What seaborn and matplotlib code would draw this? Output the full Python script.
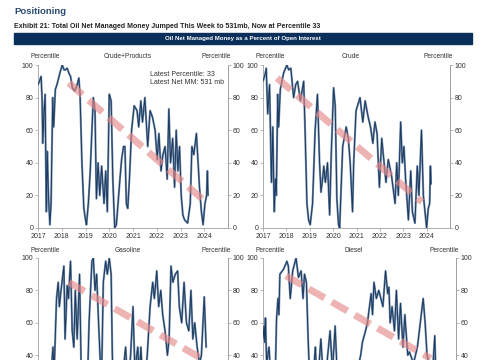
import numpy as np
import pandas as pd
import seaborn as sns
import matplotlib.pyplot as plt

# Crude+Products percentile
cp_years = [2017.00, 2017.06, 2017.13, 2017.17, 2017.20, 2017.25, 2017.30, 2017.35, 2017.39, 2017.44,
            2017.50, 2017.55, 2017.62, 2017.66, 2017.73, 2017.80, 2017.92, 2018.02, 2018.10, 2018.15,
            2018.23, 2018.30, 2018.37, 2018.45, 2018.54, 2018.60, 2018.65, 2018.72, 2018.77, 2018.85,
            2018.93, 2019.00, 2019.04, 2019.12, 2019.20, 2019.27, 2019.33, 2019.40, 2019.46, 2019.53,
            2019.60, 2019.68, 2019.78, 2019.85, 2019.92, 2020.00, 2020.08, 2020.15, 2020.23, 2020.30,
            2020.45, 2020.52, 2020.60, 2020.66, 2020.72, 2020.78, 2020.85, 2020.94, 2021.05, 2021.17,
            2021.24, 2021.33, 2021.40, 2021.50, 2021.62, 2021.72, 2021.82, 2021.93, 2022.02, 2022.09,
            2022.18, 2022.26, 2022.35, 2022.44, 2022.51, 2022.58, 2022.67, 2022.75, 2022.82, 2022.89,
            2022.96, 2023.03, 2023.10, 2023.17, 2023.30, 2023.41, 2023.48, 2023.56, 2023.67, 2023.74,
            2023.80, 2023.88, 2023.95, 2024.03, 2024.10, 2024.13, 2024.16]
cp_pct = [88, 90, 93, 80, 52, 70, 82, 10, 47, 20,
          2, 15, 80, 62, 85, 88, 95, 100, 97, 97,
          98, 95, 93, 86, 84, 86, 88, 92, 82, 40,
          12, 5, 2, 15, 35, 60, 80, 72, 18, 40,
          20, 38, 15, 35, 10, 82, 78, 30, 0, 2,
          30, 42, 50, 50, 15, 12, 30, 60, 75, 72,
          62, 78, 65, 80, 50, 72, 68, 60, 42, 58,
          35, 45, 50, 30, 73, 40, 55, 25, 60, 35,
          50, 20, 8, 5, 3, 15, 50, 45, 58, 40,
          25, 10, 2, 15, 20, 35, 20]

# Crude percentile
cr_years = [2017.00, 2017.10, 2017.14, 2017.20, 2017.28, 2017.36, 2017.42, 2017.48, 2017.53, 2017.57,
            2017.63, 2017.67, 2017.74, 2017.88, 2018.02, 2018.10, 2018.19, 2018.31, 2018.40, 2018.48,
            2018.60, 2018.74, 2018.80, 2018.88, 2018.95, 2019.02, 2019.12, 2019.23, 2019.33, 2019.42,
            2019.48, 2019.55, 2019.60, 2019.67, 2019.76, 2019.85, 2019.92, 2020.02, 2020.09, 2020.16,
            2020.23, 2020.28, 2020.33, 2020.41, 2020.56, 2020.65, 2020.73, 2020.83, 2020.88, 2020.98,
            2021.15, 2021.27, 2021.37, 2021.50, 2021.60, 2021.70, 2021.79, 2021.88, 2021.98, 2022.08,
            2022.18, 2022.26, 2022.36, 2022.50, 2022.65, 2022.72, 2022.79, 2022.89, 2022.96, 2023.03,
            2023.10, 2023.22, 2023.32, 2023.39, 2023.50, 2023.60, 2023.67, 2023.78, 2023.86, 2024.00,
            2024.07, 2024.13, 2024.16, 2024.19]
cr_pct = [90, 95, 98, 70, 88, 28, 62, 10, 30, 20,
          82, 62, 85, 95, 100, 97, 98, 80, 88, 90,
          78, 90, 60, 15, 5, 2, 15, 60, 82, 40,
          22, 30, 38, 28, 40, 8, 45, 86, 75, 18,
          2, 0, 20, 50, 62, 55, 40, 10, 40, 72,
          80, 65, 78, 68, 62, 52, 65, 58, 25, 55,
          40, 28, 42, 32, 15, 40, 20, 65, 40, 50,
          30, 5, 35, 10, 3, 38, 20, 60, 20, 0,
          12, 15, 38, 27]

# Gasoline percentile
gs_years = [2017.00, 2017.15, 2017.30, 2017.45, 2017.58, 2017.63, 2017.68, 2017.78, 2017.85, 2017.90,
            2017.97, 2018.09, 2018.14, 2018.23, 2018.28, 2018.37, 2018.44, 2018.51, 2018.57, 2018.65,
            2018.75, 2018.82, 2018.95, 2019.05, 2019.15, 2019.27, 2019.33, 2019.40, 2019.47, 2019.55,
            2019.67, 2019.75, 2019.85, 2019.92, 2020.00, 2020.08, 2020.13, 2020.22, 2020.40, 2020.55,
            2020.69, 2020.78, 2020.90, 2021.00, 2021.08, 2021.20, 2021.27, 2021.33, 2021.45, 2021.60,
            2021.72, 2021.83, 2021.90, 2022.00, 2022.08, 2022.17, 2022.25, 2022.35, 2022.45, 2022.52,
            2022.60, 2022.68, 2022.78, 2022.88, 2022.95, 2023.05, 2023.15, 2023.25, 2023.35, 2023.44,
            2023.52, 2023.60, 2023.70, 2023.80, 2023.88, 2024.00, 2024.08]
gs_pct = [15, 25, 10, 30, 35, 45, 30, 75, 85, 70,
          80, 95, 50, 83, 75, 98, 55, 45, 80, 50,
          90, 30, 10, 5, 60, 98, 100, 80, 90, 60,
          20, 85, 98, 90, 100, 90, 40, 5, 10, 25,
          45, 20, 40, 70, 30, 45, 25, 45, 15, 40,
          70, 85, 75, 92, 70, 80, 65, 55, 40, 50,
          95, 85, 90, 92, 70, 60, 85, 60, 55, 80,
          50, 60, 45, 35, 40, 76, 45]

# Diesel percentile
ds_years = [2017.00, 2017.04, 2017.07, 2017.10, 2017.15, 2017.25, 2017.35, 2017.45, 2017.52, 2017.56,
            2017.62, 2017.66, 2017.70, 2017.85, 2017.99, 2018.05, 2018.13, 2018.23, 2018.37, 2018.47,
            2018.58, 2018.66, 2018.72, 2018.80, 2018.87, 2018.95, 2019.10, 2019.17, 2019.25, 2019.40,
            2019.50, 2019.65, 2019.78, 2019.88, 2019.99, 2020.10, 2020.30, 2020.50, 2020.70, 2020.90,
            2021.05, 2021.12, 2021.25, 2021.33, 2021.48, 2021.54, 2021.60, 2021.70, 2021.80, 2021.97,
            2022.08, 2022.17, 2022.22, 2022.27, 2022.35, 2022.45, 2022.53, 2022.62, 2022.70, 2022.80,
            2022.88, 2023.00, 2023.07, 2023.24, 2023.40, 2023.52, 2023.64, 2023.72, 2023.80, 2023.95,
            2024.05, 2024.12, 2024.16]
ds_pct = [50, 58, 48, 63, 35, 45, 20, 15, 35, 62,
          75, 65, 90, 93, 98, 95, 75, 92, 100, 88,
          92, 75, 90, 85, 50, 20, 30, 45, 20, 50,
          25, 35, 55, 30, 58, 20, 10, 25, 15, 30,
          40, 48, 55, 60, 78, 65, 85, 75, 80, 70,
          92, 78, 82, 60, 70, 55, 80, 50, 72, 45,
          65, 40, 42, 35, 45, 60, 75, 60, 40, 30,
          35, 52, 30]

# red dashed trend lines: start/end (year, percentile)
cp_trend_x = [2018.3, 2023.9]
cp_trend_y = [89, 18]
cr_trend_x = [2017.6, 2023.8]
cr_trend_y = [92, 16]
gs_trend_x = [2018.3, 2024.0]
gs_trend_y = [85, 37]
ds_trend_x = [2017.95, 2023.95]
ds_trend_y = [89, 38]

titles = ['Crude+Products', 'Crude', 'Gasoline', 'Diesel']
year_ticks = list(range(2017, 2025))
pct_ticks = [0, 20, 40, 60, 80, 100]

sns.set_style('white')
plt.rcParams['font.family'] = ['Liberation Sans', 'DejaVu Sans']
plt.rcParams['font.size'] = 5

navy = '#1B3A60'
halo = '#7890AD'
spine_c = '#A0A0A0'
text_c = '#333333'

fig = plt.figure(figsize=(4.85, 3.6), dpi=100)

# page header
fig.text(14 / 485, 1 - 11 / 360, 'Positioning', fontsize=6.8, fontweight='bold',
         color='#2B4A70', va='center', ha='left')
fig.text(14 / 485, 1 - 27 / 360,
         'Exhibit 21: Total Oil Net Managed Money Jumped This Week to 531mb, Now at Percentile 33',
         fontsize=5.0, fontweight='bold', color='#222222', va='center', ha='left')
fig.patches.append(plt.Rectangle((14 / 485, 1 - 44 / 360), 458 / 485, 11 / 360,
                                 transform=fig.transFigure, color='#0B2F5B', zorder=0))
fig.text(243 / 485, 1 - 38.5 / 360, 'Oil Net Managed Money as a Percent of Open Interest',
         fontsize=4.4, fontweight='bold', color='white', va='center', ha='center')

panels = [
    (cp_years, cp_pct, cp_trend_x, cp_trend_y, [38, 190, 65, 228]),
    (cr_years, cr_pct, cr_trend_x, cr_trend_y, [263, 187, 65, 228]),
    (gs_years, gs_pct, gs_trend_x, gs_trend_y, [38, 190, 258, 420]),
    (ds_years, ds_pct, ds_trend_x, ds_trend_y, [263, 193, 258, 420]),
]

for i, (yrs, vals, tx, ty, box) in enumerate(panels):
    left, width, ytop, ybot = box
    ax = fig.add_axes([left / 485, 1 - ybot / 360, width / 485, (ybot - ytop) / 360])
    df = pd.DataFrame({'year': yrs, 'pct': vals})
    sns.lineplot(data=df, x='year', y='pct', ax=ax, color=halo, lw=1.5, zorder=2)
    sns.lineplot(data=df, x='year', y='pct', ax=ax, color=navy, lw=0.7, zorder=3)
    ax.plot(tx, ty, color='#E58A8A', alpha=0.65, lw=5, dashes=(2.6, 1.2),
            dash_capstyle='butt', zorder=4)
    ax.set_xlim(2017, 2025)
    ax.set_ylim(0, 100)
    ax.set_xticks(year_ticks)
    ax.set_yticks(pct_ticks)
    ax.set_xlabel('')
    ax.set_ylabel('')
    ax.spines['top'].set_visible(False)
    for s in ['left', 'right', 'bottom']:
        ax.spines[s].set_color(spine_c)
        ax.spines[s].set_linewidth(0.6)
    ax.tick_params(axis='both', length=2, width=0.5, color=spine_c, labelsize=5,
                   labelcolor=text_c, pad=1.5, left=True, bottom=True)
    ax2 = ax.twinx()
    ax2.set_ylim(0, 100)
    ax2.set_yticks(pct_ticks)
    for s in ['top', 'left', 'bottom']:
        ax2.spines[s].set_visible(False)
    ax2.spines['right'].set_color(spine_c)
    ax2.spines['right'].set_linewidth(0.6)
    ax2.tick_params(axis='y', length=2, width=0.5, color=spine_c, labelsize=5,
                    labelcolor=text_c, pad=1.5, right=True)

    # lower panels run off the bottom of the page: drop labels that would be cut
    if i >= 2:
        ax.tick_params(axis='x', labelbottom=False)
        lbls = ['', '', '40', '60', '80', '100']
        ax.set_yticklabels(lbls)
        ax2.set_yticklabels(lbls)

    # header row above each panel
    hy = 1 - (ytop - 8) / 360
    fig.text((left + 7) / 485, hy, 'Percentile', fontsize=4.8, color=text_c, ha='center', va='center')
    fig.text((left + width * 0.47) / 485, hy, titles[i], fontsize=4.8, color=text_c, ha='center', va='center')
    fig.text((left + width - 12) / 485, hy, 'Percentile', fontsize=4.8, color=text_c, ha='center', va='center')

    if i == 0:
        ax.text(0.59, 0.965, 'Latest Percentile: 33\nLatest Net MM: 531 mb', transform=ax.transAxes,
                fontsize=5, color=text_c, ha='left', va='top', linespacing=1.2)

fig.savefig('out.png', dpi=100)
